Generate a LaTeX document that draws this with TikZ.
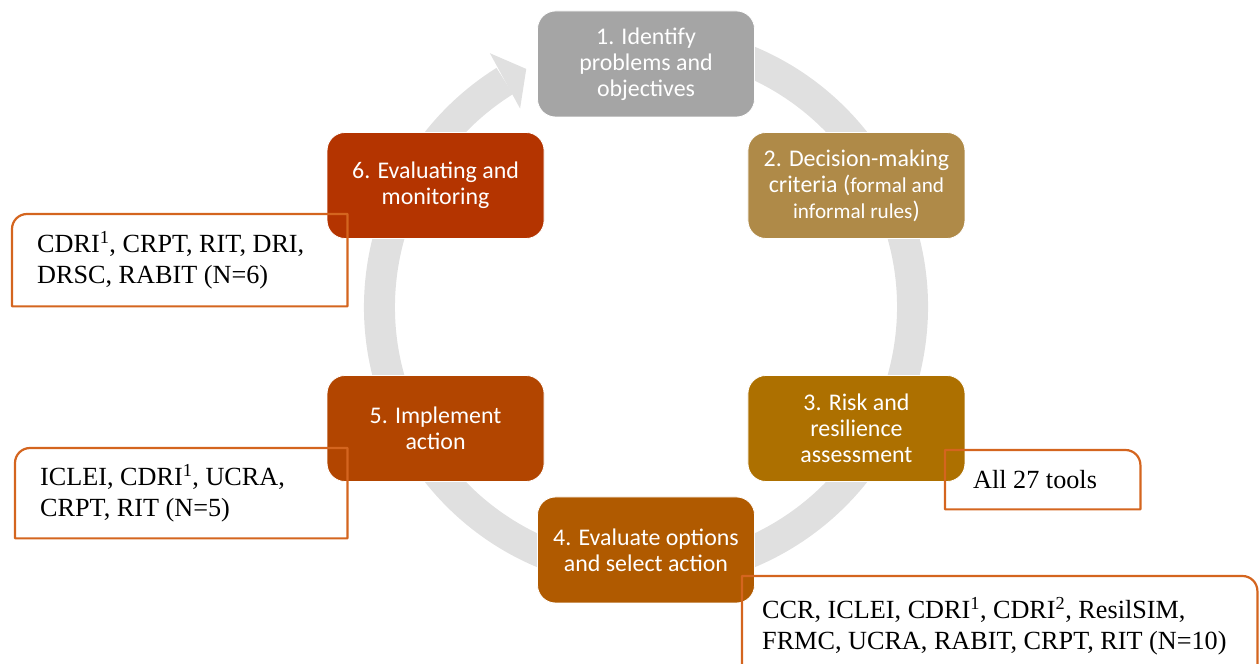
\documentclass[tikz,border=0pt]{standalone}
\usepackage{fontspec}
\setmainfont{Liberation Serif}
\newfontfamily\stagefont{Carlito}
\usetikzlibrary{calc}
\definecolor{stageA}{HTML}{A5A5A5}
\definecolor{stageB}{HTML}{AF8A48}
\definecolor{stageC}{HTML}{AD7000}
\definecolor{stageD}{HTML}{B05A00}
\definecolor{stageE}{HTML}{B24500}
\definecolor{stageF}{HTML}{B43400}
\definecolor{ringgrey}{HTML}{E0E0E0}
\definecolor{tagorange}{HTML}{D4651F}
\newcommand\smallpart[1]{{\fontsize{21.2}{26}\selectfont #1}}
\begin{document}
\begin{tikzpicture}[x=1pt,y=1pt,line join=round,
  stage/.style={rounded corners=18, minimum width=217, minimum height=106, inner sep=0,
    draw=white, line width=0.8, text=white, align=center,
    font=\stagefont\fontsize{23.9}{26}\selectfont},
  tools/.style={anchor=north west, align=flush left, inner ysep=0,
    font=\fontsize{26.2}{31}\selectfont},
  tagline/.style={draw=tagorange, line width=2.2}]
\def \cx{646}
\def \cy{357}
\def \rr{266.5}
\def \rs{243}
\useasboundingbox (0,0) rectangle (1259,664);
\clip (0,0) rectangle (1259,664);
\coordinate (hub) at (\cx,\cy);
% grey cycle with its arrow head
\draw[ringgrey, line width=31] (hub) ++(80:\rr) arc[start angle=80, end angle=-238, radius=\rr];
\fill[ringgrey] ($(hub)+(116.7:\rr)$) -- ($(hub)+(121.6:298)$) -- ($(hub)+(122.4:235)$) -- cycle;
% the six stages
\foreach \n/\a/\c/\t in {1/90/stageA/{1. Identify\\problems and\\objectives},
  2/30/stageB/{2. Decision-making\\criteria (\smallpart{formal and}\\\smallpart{informal rules})},
  3/-30/stageC/{3. Risk and\\resilience\\assessment},
  4/-90/stageD/{4. Evaluate options\\and select action},
  5/-150/stageE/{5. Implement\\action},
  6/150/stageF/{6. Evaluating and\\monitoring}}
  {\node[stage, fill=\c] (s\n) at ($(hub)+(\a:\rs)$) {\t};}
% tool lists
\node[tools, text width=285, inner xsep=25, minimum height=92] (t6) at (12,450)
  {CDRI\textsuperscript{1}, CRPT, RIT, DRI,\\DRSC, RABIT (N=6)};
\node[tools, text width=282, inner xsep=25, minimum height=90] (t5) at (15,216)
  {ICLEI, CDRI\textsuperscript{1}, UCRA,\\CRPT, RIT (N=5)};
\node[tools, text width=139, inner xsep=28, minimum height=59] (t3) at (945,214)
  {All 27 tools};
\node[tools, text width=475, inner xsep=20, minimum height=101] (t4) at (742,88)
  {CCR, ICLEI, CDRI\textsuperscript{1}, CDRI\textsuperscript{2}, ResilSIM,\\FRMC, UCRA, RABIT, CRPT, RIT (N=10)};
\foreach \t in {t6,t5}
  {\draw[tagline] (\t.south west) -- ([yshift=-15]\t.north west) arc[start angle=180, end angle=90, radius=15] -- (\t.north east) -- (\t.south east) -- cycle;}
\foreach \t in {t3,t4}
  {\draw[tagline] (\t.south west) -- (\t.north west) -- ([xshift=-15]\t.north east) arc[start angle=90, end angle=0, radius=15] -- (\t.south east) -- cycle;}
\end{tikzpicture}
\end{document}
